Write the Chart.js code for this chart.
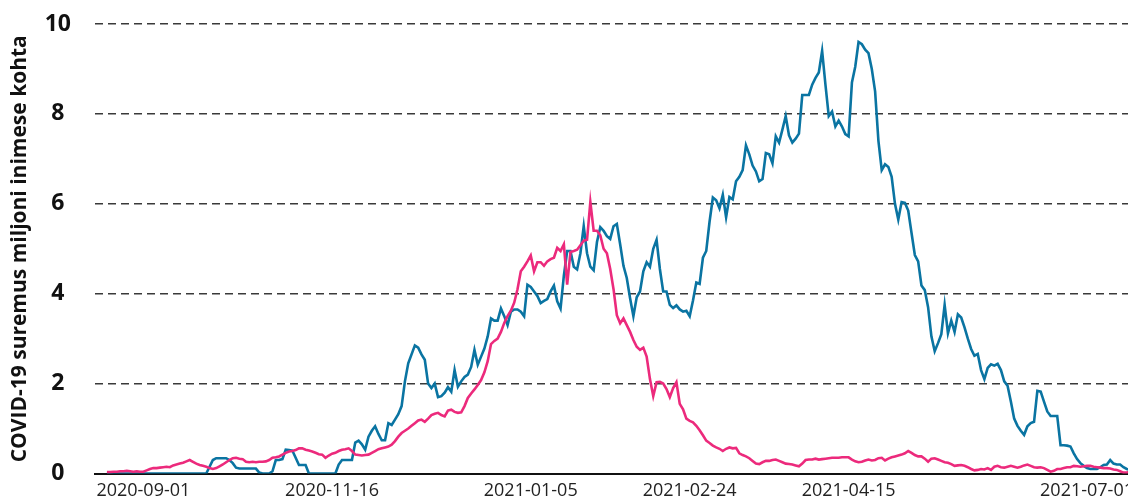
<!DOCTYPE html>
<html>
<head>
<meta charset="utf-8">
<script src="https://cdn.jsdelivr.net/npm/chart.js@4/dist/chart.umd.min.js"></script>
<style>
  html, body { margin: 0; padding: 0; background: #fff; overflow: hidden; }
  #wrap { width: 1140px; height: 500px; }
</style>
</head>
<body>
<div id="wrap"><canvas id="covidChart"></canvas></div>
<script>
// tick labels and the data index they sit on
const tickLabels = ["2020-09-01", "2020-11-16", "2021-01-05", "2021-02-24", "2021-04-15", "2021-07-01"];
const tickIndex = [11, 68, 128, 176, 224, 296];

// pink series (one value per day)
const pinkValues = [
  0.03,0.03,0.04,0.04,0.05,0.05,0.06,0.05,0.04,0.05,
  0.04,0.04,0.07,0.1,0.12,0.12,0.13,0.14,0.15,0.14,
  0.18,0.2,0.22,0.24,0.27,0.3,0.26,0.22,0.19,0.17,
  0.15,0.12,0.1,0.12,0.16,0.2,0.25,0.3,0.34,0.35,
  0.33,0.32,0.26,0.25,0.26,0.25,0.26,0.26,0.27,0.3,
  0.35,0.36,0.38,0.42,0.46,0.49,0.5,0.52,0.56,0.56,
  0.53,0.51,0.49,0.46,0.43,0.42,0.35,0.4,0.44,0.46,
  0.5,0.53,0.54,0.56,0.5,0.42,0.41,0.4,0.41,0.42,
  0.46,0.5,0.54,0.56,0.58,0.6,0.64,0.72,0.82,0.9,
  0.95,1.0,1.06,1.12,1.18,1.2,1.15,1.22,1.3,1.33,
  1.35,1.3,1.27,1.4,1.42,1.37,1.35,1.36,1.5,1.68,
  1.78,1.87,1.97,2.08,2.25,2.5,2.88,2.95,3.0,3.15,
  3.35,3.5,3.62,3.8,4.1,4.5,4.6,4.72,4.85,4.5,
  4.7,4.7,4.62,4.72,4.77,4.8,5.02,4.95,5.1,4.2,
  4.93,4.95,4.98,5.08,5.18,5.2,6.04,5.4,5.4,5.3,
  5.0,4.9,4.55,4.1,3.52,3.34,3.45,3.3,3.15,2.97,
  2.82,2.75,2.8,2.6,2.1,1.72,2.03,2.04,2.0,1.88,
  1.7,1.9,2.03,1.55,1.43,1.22,1.17,1.14,1.06,0.96,
  0.85,0.73,0.68,0.62,0.58,0.55,0.5,0.55,0.58,0.56,
  0.57,0.45,0.41,0.38,0.34,0.28,0.22,0.21,0.25,0.28,
  0.28,0.3,0.31,0.28,0.25,0.22,0.21,0.2,0.18,0.16,
  0.22,0.3,0.31,0.31,0.33,0.31,0.32,0.33,0.34,0.35,
  0.35,0.35,0.36,0.36,0.36,0.31,0.27,0.25,0.26,0.29,
  0.31,0.29,0.3,0.34,0.35,0.29,0.33,0.36,0.38,0.4,
  0.42,0.45,0.5,0.46,0.41,0.38,0.38,0.33,0.26,0.33,
  0.34,0.31,0.28,0.25,0.24,0.21,0.17,0.18,0.19,0.17,
  0.14,0.1,0.07,0.08,0.1,0.09,0.12,0.08,0.15,0.17,
  0.14,0.13,0.15,0.17,0.15,0.13,0.15,0.18,0.2,0.17,
  0.14,0.13,0.14,0.12,0.08,0.04,0.06,0.1,0.1,0.12,
  0.14,0.14,0.17,0.16,0.15,0.16,0.17,0.17,0.15,0.14,
  0.13,0.12,0.12,0.11,0.09,0.08,0.05,0.02,0.02,0.04,
  0.04
];

// blue series (one value per day)
const blueValues = [
  0,0,0,0,0,0,0,0,0,0,
  0,0,0,0,0,0,0,0,0,0,
  0,0,0,0,0,0,0,0,0,0,
  0,0.15,0.3,0.34,0.34,0.34,0.34,0.3,0.23,0.13,
  0.11,0.11,0.11,0.11,0.11,0.11,0.02,0,0,0,
  0.05,0.3,0.3,0.32,0.53,0.52,0.51,0.35,0.19,0.19,
  0.19,0,0,0,0,0,0,0,0,0,
  0.2,0.3,0.3,0.3,0.3,0.69,0.73,0.65,0.53,0.82,
  0.95,1.05,0.88,0.74,0.74,1.12,1.08,1.2,1.32,1.5,
  2.05,2.45,2.65,2.85,2.8,2.65,2.53,2.0,1.9,2.0,
  1.7,1.72,1.8,1.92,1.82,2.3,1.93,2.05,2.15,2.2,
  2.37,2.75,2.42,2.6,2.78,3.05,3.45,3.4,3.4,3.67,
  3.5,3.3,3.6,3.65,3.65,3.6,3.5,4.2,4.15,4.05,
  3.95,3.79,3.84,3.88,4.05,4.18,3.83,3.67,4.4,4.95,
  4.95,4.6,4.54,4.9,5.5,4.9,4.6,4.52,5.15,5.48,
  5.4,5.28,5.22,5.5,5.55,5.1,4.62,4.35,3.9,3.5,
  3.92,4.05,4.5,4.7,4.6,5.0,5.2,4.55,4.05,4.05,
  3.75,3.68,3.74,3.65,3.6,3.62,3.5,3.85,4.25,4.22,
  4.8,4.95,5.6,6.14,6.08,5.9,6.2,5.7,6.15,6.1,
  6.5,6.6,6.75,7.3,7.1,6.85,6.72,6.5,6.55,7.13,
  7.1,6.9,7.5,7.36,7.65,7.95,7.52,7.36,7.45,7.56,
  8.42,8.42,8.42,8.65,8.8,8.92,9.4,8.65,7.95,8.05,
  7.72,7.85,7.72,7.55,7.5,8.7,9.05,9.6,9.55,9.43,
  9.35,9.0,8.5,7.4,6.75,6.88,6.82,6.6,6.0,5.65,
  6.04,6.02,5.85,5.35,4.86,4.72,4.18,4.08,3.7,3.05,
  2.72,2.9,3.1,3.75,3.12,3.4,3.15,3.54,3.47,3.25,
  3.0,2.77,2.62,2.66,2.3,2.1,2.35,2.43,2.4,2.44,
  2.3,2.05,1.95,1.6,1.22,1.06,0.95,0.86,1.05,1.12,
  1.15,1.84,1.82,1.6,1.38,1.28,1.28,1.28,0.63,0.63,
  0.62,0.6,0.45,0.32,0.23,0.17,0.12,0.1,0.1,0.1,
  0.14,0.19,0.2,0.3,0.22,0.2,0.2,0.14,0.1,0.08,
  0.08
];

const fontFamily = "'Open Sans', Lato, sans-serif";

function toPoints(values) {
  return values.map((v, i) => ({ x: i, y: v }));
}

window.onload = function() {
  new Chart("covidChart", {
    type: "line",
    data: {
      datasets: [{
        data: toPoints(pinkValues),
        borderColor: "#ec2a7c",
        borderWidth: 2.6,
        pointRadius: 0,
        tension: 0
      }, {
        data: toPoints(blueValues),
        borderColor: "#0a74a2",
        borderWidth: 2.6,
        pointRadius: 0,
        tension: 0
      }]
    },
    options: {
      responsive: true,
      maintainAspectRatio: false,
      animation: false,
      layout: { padding: { top: 24, left: 0, right: 0, bottom: 0 } },
      plugins: {
        legend: { display: false },
        tooltip: { enabled: false }
      },
      scales: {
        x: {
          type: "linear",
          min: -3.6,
          max: 312,
          afterBuildTicks: function(scale) {
            scale.ticks = tickIndex.map(v => ({ value: v }));
          },
          afterFit: function(scale) {
            scale.height = 26.5;
            scale.paddingLeft = 0;
            scale.paddingRight = 0;
          },
          ticks: {
            autoSkip: false,
            maxRotation: 0,
            padding: 7,
            color: "#222",
            font: { family: fontFamily, size: 18 },
            callback: function(value) {
              const k = tickIndex.indexOf(value);
              return k >= 0 ? tickLabels[k] : "";
            }
          },
          grid: { display: false, drawTicks: false },
          border: { display: true, color: "#111", width: 2 }
        },
        y: {
          min: 0,
          max: 10,
          afterFit: function(scale) {
            scale.width = 95;
            scale.paddingTop = 0;
            scale.paddingBottom = 0;
          },
          ticks: {
            stepSize: 2,
            padding: 24,
            crossAlign: "center",
            color: "#111",
            font: { family: fontFamily, size: 23, weight: "bold" }
          },
          grid: {
            drawTicks: false,
            lineWidth: 1.5,
            color: function(ctx) {
              return ctx.tick && ctx.tick.value === 0 ? "rgba(0,0,0,0)" : "#3a3a3a";
            }
          },
          border: { display: false, dash: [8, 5] },
          title: {
            display: true,
            text: "COVID-19 suremus miljoni inimese kohta",
            color: "#111",
            padding: { top: 7, bottom: 0 },
            font: { family: fontFamily, size: 21, weight: "bold" }
          }
        }
      }
    }
  });
};
</script>
</body>
</html>
